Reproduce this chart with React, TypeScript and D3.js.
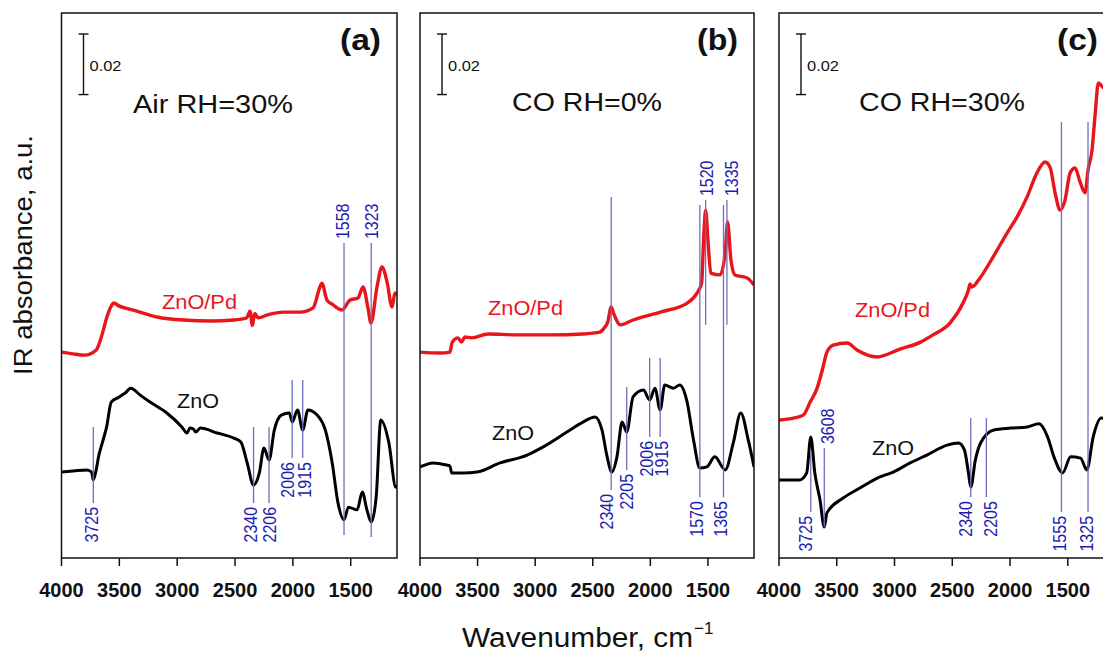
import React from 'react';
import * as d3 from 'd3';

type Pt = [number, number];
type Peak = { w: number; lo: number; hi: number; side: 'below' | 'above'; dx: number };

// ---------- data (wavenumber cm-1, absorbance offset a.u.) ----------
const xTicks = [4000, 3500, 3000, 2500, 2000, 1500];
const xDomain: [number, number] = [4000, 1100];
const yDomain: [number, number] = [0, 0.18];
const scaleBarValue = 0.02;

const airPd: Pt[] = [
  [4000, 0.068], [3900, 0.0674], [3800, 0.067], [3700, 0.0687], [3650, 0.0737], [3610, 0.0793],
  [3570, 0.0832], [3550, 0.0842], [3500, 0.0832], [3380, 0.0819], [3175, 0.0796], [2945, 0.0786],
  [2700, 0.0783], [2510, 0.0786], [2400, 0.0793], [2370, 0.0815], [2350, 0.0768], [2330, 0.0808],
  [2300, 0.0793], [2220, 0.0803], [2080, 0.0812], [1938, 0.0812], [1826, 0.0826], [1766, 0.0895],
  [1750, 0.0908], [1705, 0.0852], [1653, 0.0836], [1575, 0.0819], [1506, 0.0852], [1437, 0.0859],
  [1394, 0.0895], [1351, 0.0826], [1325, 0.0776], [1273, 0.0895], [1230, 0.0961], [1186, 0.0912],
  [1143, 0.0829], [1117, 0.0875], [1100, 0.0869],
];
const airZnO: Pt[] = [
  [4000, 0.0284], [3900, 0.0287], [3780, 0.0291], [3740, 0.0284], [3725, 0.0258], [3700, 0.0291],
  [3680, 0.0334], [3640, 0.039], [3610, 0.0433], [3570, 0.0515], [3500, 0.0532], [3450, 0.0545],
  [3400, 0.0561], [3320, 0.0538], [3235, 0.0515], [3090, 0.0479], [2960, 0.0433], [2915, 0.0413],
  [2890, 0.0429], [2860, 0.0426], [2840, 0.0416], [2800, 0.0429], [2655, 0.0413], [2510, 0.0396],
  [2450, 0.0383], [2395, 0.0314], [2340, 0.0241], [2290, 0.0281], [2250, 0.0363], [2206, 0.0324],
  [2160, 0.0423], [2100, 0.0472], [2030, 0.0479], [2006, 0.0449], [1960, 0.0489], [1915, 0.0423],
  [1870, 0.0489], [1790, 0.0472], [1720, 0.0423], [1660, 0.0314], [1610, 0.0182], [1558, 0.0126],
  [1520, 0.0168], [1445, 0.0159], [1400, 0.0218], [1360, 0.0159], [1323, 0.0119], [1280, 0.0201],
  [1240, 0.0456], [1170, 0.038], [1110, 0.0234], [1100, 0.0241],
];
const airPeaks: Peak[] = [
  { w: 3725, lo: 0.0182, hi: 0.0433, side: 'below', dx: -1.5 },
  { w: 2340, lo: 0.0182, hi: 0.0433, side: 'below', dx: -3 },
  { w: 2206, lo: 0.0182, hi: 0.0433, side: 'below', dx: 0 },
  { w: 2006, lo: 0.033, hi: 0.0588, side: 'below', dx: -4.5 },
  { w: 1915, lo: 0.033, hi: 0.0588, side: 'below', dx: 1.5 },
  { w: 1558, lo: 0.0076, hi: 0.104, side: 'above', dx: -1.5 },
  { w: 1323, lo: 0.0069, hi: 0.104, side: 'above', dx: 0 },
];

const coDryPd: Pt[] = [
  [4000, 0.068], [3826, 0.0677], [3740, 0.068], [3720, 0.0713], [3670, 0.0727], [3640, 0.0713],
  [3610, 0.073], [3550, 0.0727], [3410, 0.074], [3160, 0.0737], [2870, 0.0737], [2585, 0.074],
  [2440, 0.0746], [2400, 0.076], [2370, 0.0779], [2340, 0.0829], [2320, 0.0809], [2260, 0.077],
  [2150, 0.0786], [1915, 0.0812], [1680, 0.0842], [1595, 0.0875], [1555, 0.0908], [1535, 0.1073],
  [1520, 0.1149], [1500, 0.105], [1475, 0.0941], [1395, 0.0935], [1350, 0.1007], [1330, 0.111],
  [1300, 0.0984], [1265, 0.0935], [1160, 0.0925], [1100, 0.0902],
];
const coDryZnO: Pt[] = [
  [4000, 0.0301], [3885, 0.0314], [3770, 0.0307], [3740, 0.0304], [3725, 0.0281], [3625, 0.0281],
  [3505, 0.0284], [3305, 0.0314], [3070, 0.034], [2930, 0.0367], [2725, 0.0416], [2585, 0.0449],
  [2480, 0.0466], [2420, 0.0423], [2375, 0.0334], [2335, 0.0284], [2290, 0.0334], [2245, 0.0449],
  [2205, 0.0416], [2150, 0.0532], [2060, 0.0555], [2006, 0.0522], [1960, 0.0561], [1915, 0.0489],
  [1875, 0.0571], [1800, 0.0561], [1745, 0.0571], [1685, 0.0522], [1625, 0.039], [1570, 0.0297],
  [1510, 0.0301], [1440, 0.0334], [1350, 0.0291], [1280, 0.038], [1215, 0.0479], [1150, 0.039],
  [1100, 0.0301],
];
const coDryPeaks: Peak[] = [
  { w: 2340, lo: 0.0225, hi: 0.1192, side: 'below', dx: -4.5 },
  { w: 2205, lo: 0.0291, hi: 0.0565, side: 'below', dx: 0 },
  { w: 2006, lo: 0.04, hi: 0.0661, side: 'below', dx: -3 },
  { w: 1915, lo: 0.04, hi: 0.0661, side: 'below', dx: 1.5 },
  { w: 1570, lo: 0.0201, hi: 0.1166, side: 'below', dx: -3 },
  { w: 1365, lo: 0.0201, hi: 0.1166, side: 'below', dx: -2.5 },
  { w: 1520, lo: 0.077, hi: 0.1182, side: 'above', dx: 1 },
  { w: 1335, lo: 0.077, hi: 0.1182, side: 'above', dx: 5 },
];

const coWetPd: Pt[] = [
  [4000, 0.0456], [3875, 0.0462], [3790, 0.0472], [3730, 0.0515], [3670, 0.0561], [3625, 0.0621],
  [3585, 0.068], [3530, 0.0703], [3410, 0.071], [3325, 0.0687], [3150, 0.0664], [2952, 0.069],
  [2775, 0.0713], [2667, 0.0737], [2520, 0.0776], [2407, 0.0842], [2360, 0.0885], [2346, 0.0905],
  [2330, 0.0895], [2260, 0.0925], [2147, 0.0994], [2026, 0.1073], [1940, 0.1126],
  [1853, 0.1192], [1767, 0.1272], [1697, 0.1308], [1654, 0.1291], [1610, 0.1206], [1567, 0.1149],
  [1524, 0.1182], [1480, 0.1272], [1437, 0.1288], [1394, 0.1242], [1350, 0.1206], [1325, 0.1281],
  [1290, 0.1348], [1265, 0.1457], [1235, 0.1569], [1200, 0.1556], [1150, 0.1539], [1100, 0.1513],
];
const coWetZnO: Pt[] = [
  [4000, 0.0258], [3820, 0.0258], [3760, 0.0281], [3725, 0.04], [3690, 0.0281], [3645, 0.0192],
  [3608, 0.0102], [3585, 0.0149], [3445, 0.0198], [3300, 0.0231], [3150, 0.0264], [3010, 0.0284],
  [2865, 0.0314], [2720, 0.034], [2545, 0.0373], [2445, 0.038], [2395, 0.0357], [2360, 0.0281],
  [2340, 0.0234], [2300, 0.0324], [2255, 0.038], [2140, 0.0423], [1995, 0.0429], [1850, 0.0433],
  [1750, 0.0443], [1675, 0.04], [1620, 0.0334], [1545, 0.0281], [1475, 0.0334], [1390, 0.033],
  [1335, 0.0291], [1280, 0.04], [1210, 0.0462], [1150, 0.0456], [1100, 0.0423],
];
const coWetPeaks: Peak[] = [
  { w: 3725, lo: 0.0152, hi: 0.0347, side: 'below', dx: -5 },
  { w: 3608, lo: 0.0102, hi: 0.0363, side: 'above', dx: 3.5 },
  { w: 2340, lo: 0.0201, hi: 0.0462, side: 'below', dx: -5 },
  { w: 2205, lo: 0.0201, hi: 0.0462, side: 'below', dx: 4.5 },
  { w: 1555, lo: 0.0152, hi: 0.144, side: 'below', dx: -2 },
  { w: 1325, lo: 0.0152, hi: 0.144, side: 'below', dx: -2 },
];

// ---------- layout ----------
const W = 1103;
const H = 652;
const TOP = 13;
const BOTTOM = 558;
const FONT = "'Liberation Sans', Arial, Helvetica, sans-serif";
const RED = '#e8151b';
const PEAK_LINE = '#6e6ebd';
const PEAK_TEXT = '#1c1cb0';

const panels = [
  {
    key: 'a', letter: '(a)', title: 'Air RH=30%', left: 61.5, right: 397,
    pd: airPd, zno: airZnO, peaks: airPeaks,
    titleX: 133, titleY: 113, titleLen: 160,
    pdLab: [162, 309], znoLab: [177, 408],
  },
  {
    key: 'b', letter: '(b)', title: 'CO RH=0%', left: 420, right: 754,
    pd: coDryPd, zno: coDryZnO, peaks: coDryPeaks,
    titleX: 512, titleY: 111, titleLen: 150,
    pdLab: [488, 315], znoLab: [492, 440],
  },
  {
    key: 'c', letter: '(c)', title: 'CO RH=30%', left: 779, right: 1114,
    pd: coWetPd, zno: coWetZnO, peaks: coWetPeaks,
    titleX: 859, titleY: 111, titleLen: 166,
    pdLab: [855, 317], znoLab: [872, 455],
  },
];

function Panel({ p }: { p: (typeof panels)[number] }) {
  const x = d3.scaleLinear().domain(xDomain).range([p.left, p.right]);
  const y = d3.scaleLinear().domain(yDomain).range([BOTTOM, TOP]);
  const line = d3
    .line<Pt>()
    .x((d) => x(d[0]))
    .y((d) => y(d[1]))
    .curve(d3.curveMonotoneX);
  const clipId = `clip-${p.key}`;
  const barX = p.left + 22;
  const barTop = 34;
  const barLen = y(0) - y(scaleBarValue);
  return (
    <g>
      <defs>
        <clipPath id={clipId}>
          <rect x={p.left} y={TOP} width={p.right - p.left} height={BOTTOM - TOP} />
        </clipPath>
      </defs>
      <g clipPath={`url(#${clipId})`}>
        <path d={line(p.zno) || ''} fill="none" stroke="#000" strokeWidth={3} strokeLinejoin="round" />
        <path d={line(p.pd) || ''} fill="none" stroke={RED} strokeWidth={3.4} strokeLinejoin="round" />
        {p.peaks.map((pk) => (
          <line
            key={`l${pk.w}`}
            x1={x(pk.w)}
            x2={x(pk.w)}
            y1={y(pk.hi)}
            y2={y(pk.lo)}
            stroke={PEAK_LINE}
            strokeWidth={1.3}
          />
        ))}
      </g>
      {p.peaks.map((pk) => {
        const px = x(pk.w) + pk.dx;
        const py = pk.side === 'below' ? y(pk.lo) + 4 : y(pk.hi) - 4;
        return (
          <text
            key={`t${pk.w}`}
            transform={`translate(${px},${py}) rotate(-90) scale(1,1.2)`}
            textAnchor={pk.side === 'below' ? 'end' : 'start'}
            dominantBaseline="central"
            fontSize={16}
            fill={PEAK_TEXT}
            fontFamily={FONT}
          >
            {String(pk.w)}
          </text>
        );
      })}
      {/* frame */}
      <rect
        x={p.left}
        y={TOP}
        width={p.right - p.left}
        height={BOTTOM - TOP}
        fill="none"
        stroke="#111"
        strokeWidth={1.5}
      />
      {/* x ticks */}
      {xTicks.map((t) => (
        <g key={t}>
          <line x1={x(t)} x2={x(t)} y1={BOTTOM} y2={BOTTOM + 8} stroke="#111" strokeWidth={1.5} />
          <text
            x={x(t)}
            y={597}
            textAnchor="middle"
            fontSize={20}
            fontWeight="bold"
            fontFamily={FONT}
            fill="#111"
          >
            {String(t)}
          </text>
        </g>
      ))}
      {/* scale bar */}
      <line x1={barX} x2={barX} y1={barTop} y2={barTop + barLen} stroke="#111" strokeWidth={1.4} />
      <line x1={barX - 5} x2={barX + 5} y1={barTop} y2={barTop} stroke="#111" strokeWidth={1.4} />
      <line x1={barX - 5} x2={barX + 5} y1={barTop + barLen} y2={barTop + barLen} stroke="#111" strokeWidth={1.4} />
      <text x={barX + 6} y={71} fontSize={15} fontFamily={FONT} fill="#111" textLength={32} lengthAdjust="spacingAndGlyphs">
        0.02
      </text>
      {/* panel letter & title */}
      <text
        x={p.right - 16}
        y={50}
        textAnchor="end"
        fontSize={29}
        fontWeight="bold"
        fontFamily={FONT}
        fill="#111"
        textLength={41}
        lengthAdjust="spacingAndGlyphs"
      >
        {p.letter}
      </text>
      <text
        x={p.titleX}
        y={p.titleY}
        fontSize={25}
        fontFamily={FONT}
        fill="#111"
        textLength={p.titleLen}
        lengthAdjust="spacingAndGlyphs"
      >
        {p.title}
      </text>
      {/* series labels */}
      <text x={p.pdLab[0]} y={p.pdLab[1]} fontSize={20} fontFamily={FONT} fill={RED} textLength={75} lengthAdjust="spacingAndGlyphs">
        ZnO/Pd
      </text>
      <text x={p.znoLab[0]} y={p.znoLab[1]} fontSize={20} fontFamily={FONT} fill="#111" textLength={42} lengthAdjust="spacingAndGlyphs">
        ZnO
      </text>
    </g>
  );
}

export default function App() {
  return (
    <svg
      width={W}
      height={H}
      viewBox={`0 0 ${W} ${H}`}
      style={{ position: 'absolute', left: 0, top: 0, background: '#fff' }}
    >
      <rect x={0} y={0} width={W} height={H} fill="#fff" />
      {panels.map((p) => (
        <Panel key={p.key} p={p} />
      ))}
      <text
        transform="translate(32,255) rotate(-90)"
        textAnchor="middle"
        fontSize={26}
        fontFamily={FONT}
        fill="#111"
        textLength={240}
        lengthAdjust="spacingAndGlyphs"
      >
        IR absorbance, a.u.
      </text>
      <text x={462} y={647} fontSize={27} fontFamily={FONT} fill="#111" textLength={231} lengthAdjust="spacingAndGlyphs">
        Wavenumber, cm
      </text>
      <text x={694} y={634} fontSize={17} fontFamily={FONT} fill="#111">
        −1
      </text>
    </svg>
  );
}
